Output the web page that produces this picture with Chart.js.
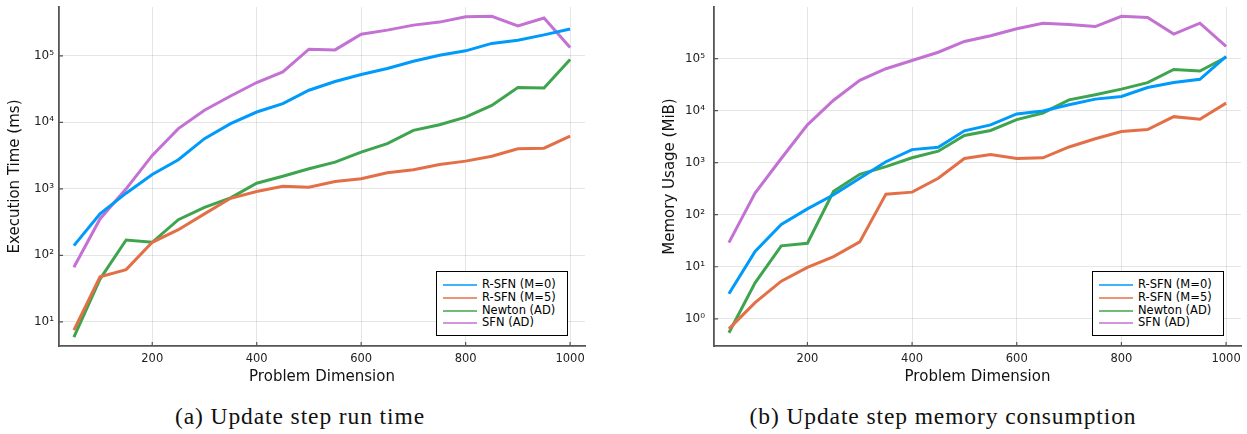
<!DOCTYPE html>
<html>
<head>
<meta charset="utf-8">
<script src="https://cdn.jsdelivr.net/npm/chart.js@4.4.1/dist/chart.umd.min.js"></script>
<style>
  html, body { margin: 0; padding: 0; background: #fff; }
  #wrap { position: relative; width: 1247px; height: 434px; overflow: hidden; }
  .cv { position: absolute; top: 0; }
  .legend { position: absolute; background: #fff; border: 1px solid #000; box-sizing: border-box;
            font-family: "DejaVu Sans", sans-serif; font-size: 11.5px; color: #000; }
  .legend .row { position: absolute; left: 0; height: 13px; line-height: 13px; white-space: nowrap; }
  .legend .ln { position: absolute; left: 6px; width: 34px; top: 6px; height: 2px; }
  .legend .tx { position: absolute; left: 45px; top: 0; }
  .cap { position: absolute; top: 403px; text-align: center; font-family: "Liberation Serif", serif;
         font-size: 23.5px; letter-spacing: 0.9px; color: #111; white-space: nowrap; }
</style>
</head>
<body>
<div id="wrap">
  <canvas id="c1" class="cv" style="left:0px;width:600px;height:395px" width="600" height="395"></canvas>
  <canvas id="c2" class="cv" style="left:650px;width:597px;height:395px" width="597" height="395"></canvas>
  <div id="lg1" class="legend" style="left:436px;top:271px;width:132px;height:65px"></div>
  <div id="lg2" class="legend" style="left:1092px;top:271px;width:132px;height:65px"></div>
  <div class="cap" style="left:0px;width:600px">(a) Update step run time</div>
  <div class="cap" style="left:643px;width:600px">(b) Update step memory consumption</div>
</div>
<script>
// ---- data ----
const dims = [50,100,150,200,250,300,350,400,450,500,550,600,650,700,750,800,850,900,950,1000];
const seriesLabels = ["R-SFN (M=0)", "R-SFN (M=5)", "Newton (AD)", "SFN (AD)"];
const seriesColors = ["#009AFA", "#E36F47", "#3EA44E", "#C371D2"];

// Execution time (ms)
const timeRSFN0  = [140,420,860,1640,2740,5680,9550,14300,19100,30400,41100,52500,64600,83000,102000,119000,154000,172000,207000,253000];
const timeRSFN5  = [7.5,47.5,61,157,243,420,721,910,1094,1057,1290,1416,1740,1935,2330,2610,3100,4010,4090,6210];
const timeNewton = [5.9,43.9,170,157,344,527,731,1215,1550,2000,2520,3560,4780,7570,9220,12000,18000,33300,32900,88300];
const timeSFN    = [66,352,1000,3180,8040,15200,24900,39700,57400,126000,123000,212000,244000,290000,322000,387000,393000,283000,371000,134000];

// Memory usage (MiB)
const memRSFN0  = [3.03,19.6,64.8,129,241,501,1040,1780,1970,4090,5320,8610,9820,12900,16600,18700,27700,34500,39900,110000];
const memRSFN5  = [0.64,2.04,5.27,9.75,15.6,30,248,271,501,1200,1430,1200,1240,2000,2880,3970,4330,7650,6840,13900];
const memNewton = [0.54,4.9,25.2,28.2,280,597,836,1240,1660,3330,4150,6710,9000,16100,20100,25800,34500,61800,57400,106000];
const memSFN    = [29,259,1200,5320,15800,38200,63700,91600,132000,213000,274000,372000,477000,449000,411000,646000,617000,295000,477000,171000];

// tick values
const xTicks = [200,400,600,800,1000];
const timeYTicks = [10,100,1000,10000,100000];
const memYTicks = [1,10,100,1000,10000,100000];

const sup = {"0":"\u2070","1":"\u00B9","2":"\u00B2","3":"\u00B3","4":"\u2074","5":"\u2075","6":"\u2076","7":"\u2077","8":"\u2078","9":"\u2079","-":"\u207B"};
function powLabel(v){ const e = Math.round(Math.log10(v)); return "10" + String(e).split("").map(c=>sup[c]).join(""); }

function makeDatasets(arrs){
  return arrs.map((a,i)=>({
    label: seriesLabels[i],
    data: a.map((y,j)=>({x: dims[j], y: y})),
    borderColor: seriesColors[i],
    backgroundColor: seriesColors[i],
    borderWidth: 3,
    pointRadius: 0,
    tension: 0,
    fill: false
  }));
}

const FONT = '"DejaVu Sans", sans-serif';
const AXIS_COLOR = '#555';

// small inward tick marks, placed through the library's scales
const innerTicks = {
  id: 'innerTicks',
  afterDraw(chart){
    const {ctx, chartArea: a, scales: {x, y}} = chart;
    ctx.save();
    ctx.strokeStyle = AXIS_COLOR;
    ctx.lineWidth = 1.2;
    ctx.beginPath();
    x.ticks.forEach(t => { const px = x.getPixelForValue(t.value); ctx.moveTo(px, a.bottom); ctx.lineTo(px, a.bottom - 4); });
    y.ticks.forEach(t => { const py = y.getPixelForValue(t.value); ctx.moveTo(a.left, py); ctx.lineTo(a.left + 4, py); });
    ctx.stroke();
    ctx.restore();
  }
};

function makeChart(id, arrs, yTicks, yMinLog, yMaxLog, yTitle, yAxisWidth, padRight, yTitlePad, yTickPad){
  return new Chart(document.getElementById(id), {
    type: 'line',
    data: { datasets: makeDatasets(arrs) },
    plugins: [innerTicks],
    options: {
      responsive: false,
      animation: false,
      events: [],
      layout: { padding: { left: 0, right: padRight, top: 7, bottom: 0 } },
      plugins: { legend: { display: false }, tooltip: { enabled: false } },
      scales: {
        x: {
          type: 'linear', min: 21.5, max: 1028.5,
          afterBuildTicks: s => { s.ticks = xTicks.map(v=>({value:v})); },
          afterFit: s => { s.height = 49; s.paddingLeft = 0; s.paddingRight = 0; },
          grid: { color: 'rgba(0,0,0,0.1)', lineWidth: 1, drawTicks: false },
          border: { display: true, color: AXIS_COLOR, width: 1.8 },
          ticks: { padding: 6, color: '#222', font: { family: FONT, size: 11.5 }, maxRotation: 0,
                   callback: v => String(v) },
          title: { display: true, text: 'Problem Dimension', color: '#111',
                   font: { family: FONT, size: 15 }, padding: { top: 0, bottom: 9 } }
        },
        y: {
          type: 'logarithmic', min: Math.pow(10, yMinLog), max: Math.pow(10, yMaxLog),
          afterBuildTicks: s => { s.ticks = yTicks.map(v=>({value:v})); },
          afterFit: s => { s.width = yAxisWidth; s.paddingTop = 0; s.paddingBottom = 0; },
          grid: { color: 'rgba(0,0,0,0.1)', lineWidth: 1, drawTicks: false },
          border: { display: true, color: AXIS_COLOR, width: 1.8 },
          ticks: { padding: yTickPad, color: '#222', font: { family: FONT, size: 12 },
                   callback: v => powLabel(v) },
          title: { display: true, text: yTitle, color: '#111',
                   font: { family: FONT, size: 15 }, padding: { top: yTitlePad, bottom: 0 } }
        }
      }
    }
  });
}

makeChart('c1', [timeRSFN0, timeRSFN5, timeNewton, timeSFN], timeYTicks, 0.636, 5.735,
          'Execution Time (ms)', 59, 15, 6, 5);
makeChart('c2', [memRSFN0, memRSFN5, memNewton, memSFN], memYTicks, -0.457, 5.99,
          'Memory Usage (MiB)', 64, 6, 11, 9);

function buildLegend(id){
  const el = document.getElementById(id);
  seriesLabels.forEach((lab,i)=>{
    const row = document.createElement('div');
    row.className = 'row';
    row.style.top = (6 + i*12.8) + 'px';
    row.style.width = '100%';
    const ln = document.createElement('div');
    ln.className = 'ln';
    ln.style.background = seriesColors[i];
    ln.style.opacity = '0.75';
    const tx = document.createElement('div');
    tx.className = 'tx';
    tx.textContent = lab;
    row.appendChild(ln); row.appendChild(tx);
    el.appendChild(row);
  });
}
buildLegend('lg1');
buildLegend('lg2');
</script>
</body>
</html>
